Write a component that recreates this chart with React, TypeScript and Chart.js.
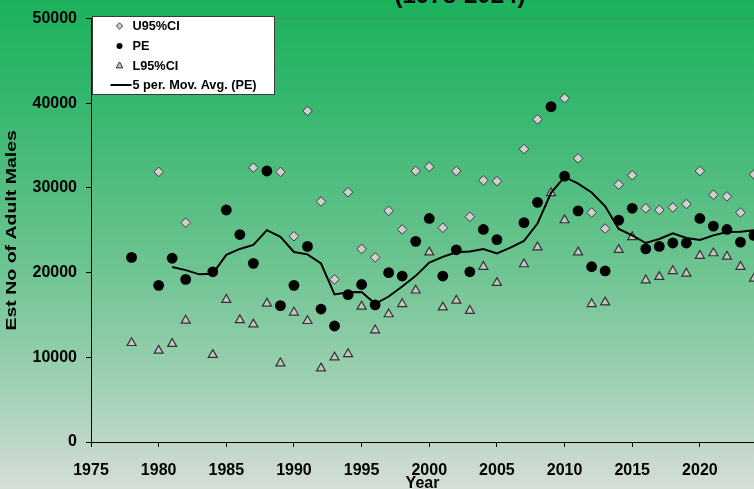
import React, { useEffect, useRef } from 'react';
import { Chart, registerables } from 'chart.js';

Chart.register(...registerables);

// ---- Data ----
const years = [
  1978, 1980, 1981, 1982, 1984, 1985, 1986, 1987, 1988, 1989, 1990, 1991, 1992, 1993, 1994,
  1995, 1996, 1997, 1998, 1999, 2000, 2001, 2002, 2003, 2004, 2005, 2007, 2008, 2009, 2010,
  2011, 2012, 2013, 2014, 2015, 2016, 2017, 2018, 2019, 2020, 2021, 2022, 2023, 2024,
];

const upperCI: (number | null)[] = [
  null, 31900, null, 25900, null, null, null, 32400, null, 31900, 24300, 39100, 28400, 19200, 29500,
  22800, 21800, 27300, 25100, 32000, 32500, 25300, 32000, 26600, 30900, 30800, 34600, 38100, null, 40600,
  33500, 27100, 25200, 30400, 31500, 27600, 27400, 27700, 28100, 32000, 29200, 29000, 27100, 31600,
];

const pointEst: (number | null)[] = [
  21800, 18500, 21700, 19200, 20100, 27400, 24500, 21100, 32000, 16100, 18500, 23100, 15700, 13700, 17400,
  18600, 16200, 20000, 19600, 23700, 26400, 19600, 22700, 20100, 25100, 23900, 25900, 28300, 39600, 31400,
  27300, 20700, 20200, 26200, 27600, 22800, 23100, 23500, 23500, 26400, 25500, 25100, 23600, 24400,
];

const lowerCI: (number | null)[] = [
  11700, 10800, 11600, 14350, 10300, 16800, 14400, 13900, 16350, 9300, 15300, 14300, 8700, 10000, 10400,
  16000, 13200, 15100, 16300, 17900, 22400, 15900, 16700, 15500, 20700, 18800, 21000, 23000, 29400, 26200,
  22400, 16300, 16500, 22700, 24200, 19100, 19500, 20200, 19900, 22000, 22300, 21900, 20700, 19300,
];

const maYears = [
  1981, 1982, 1983, 1984, 1985, 1986, 1987, 1988, 1989, 1990, 1991, 1992, 1993, 1994, 1995,
  1996, 1997, 1998, 1999, 2000, 2001, 2002, 2003, 2004, 2005, 2006, 2007, 2008, 2009, 2010,
  2011, 2012, 2013, 2014, 2015, 2016, 2017, 2018, 2019, 2020, 2021, 2022, 2023, 2024,
];

const maValues = [
  20670, 20300, 19800, 19880, 22100, 22800, 23280, 25020, 24220, 22440, 22160, 21080, 17420, 17680, 17700,
  16320, 17180, 18360, 19620, 21180, 21860, 22400, 22500, 22780, 22280, 22950, 23750, 25800, 29430, 31300,
  30500, 29460, 27840, 25160, 24400, 23500, 23980, 24640, 24100, 23860, 24400, 24800, 24820, 25000,
];

const seriesLabels = ['U95%CI', 'PE', 'L95%CI', '5 per. Mov. Avg. (PE)'];
const titleText = '(1978-2024)';
const xTitle = 'Year';
const yTitle = 'Est No of Adult Males';

const FONT = "'Liberation Sans', Arial, sans-serif";

const toPoints = (xs: number[], ys: (number | null)[]) =>
  xs.map((x, i) => ({ x, y: ys[i] })).filter((p) => p.y !== null) as { x: number; y: number }[];

const bgPlugin = {
  id: 'bgGradient',
  beforeDraw(chart: any) {
    const { ctx, width, height } = chart;
    const g = ctx.createLinearGradient(0, 0, 0, height);
    g.addColorStop(0, 'rgb(28,178,92)');
    g.addColorStop(0.2, 'rgb(52,182,110)');
    g.addColorStop(0.55, 'rgb(110,196,145)');
    g.addColorStop(0.8, 'rgb(162,209,182)');
    g.addColorStop(1, 'rgb(214,221,215)');
    ctx.save();
    ctx.fillStyle = g;
    ctx.fillRect(0, 0, width, height);
    ctx.restore();
  },
};

const decorPlugin = {
  id: 'decor',
  afterDraw(chart: any) {
    const { ctx, chartArea } = chart;
    ctx.save();
    // Top title (cut off at top edge)
    ctx.fillStyle = '#000';
    ctx.font = `bold 24px ${FONT}`;
    ctx.textAlign = 'center';
    ctx.textBaseline = 'alphabetic';
    ctx.fillText(titleText, 460, 3);

    // X title
    ctx.font = `bold 16px ${FONT}`;
    ctx.textAlign = 'center';
    ctx.textBaseline = 'alphabetic';
    ctx.fillText(xTitle, (chartArea.left + chartArea.right) / 2, 488);

    // Y title (stretched along its length)
    ctx.save();
    ctx.translate(16, (chartArea.top + chartArea.bottom) / 2);
    ctx.rotate(-Math.PI / 2);
    ctx.scale(1.3, 1);
    ctx.font = `bold 15px ${FONT}`;
    ctx.textAlign = 'center';
    ctx.textBaseline = 'alphabetic';
    ctx.fillText(yTitle, 0, 0);
    ctx.restore();

    // Legend box
    const lx = 92.5, ly = 16.5, lw = 182, lh = 78;
    ctx.fillStyle = '#ffffff';
    ctx.fillRect(lx, ly, lw, lh);
    ctx.strokeStyle = '#3a3a3a';
    ctx.lineWidth = 1;
    ctx.strokeRect(lx, ly, lw, lh);

    const mx = 119.5;
    const rows = [26, 46, 65.5, 85];
    // diamond
    ctx.beginPath();
    ctx.moveTo(mx, rows[0] - 3.2);
    ctx.lineTo(mx + 3.2, rows[0]);
    ctx.lineTo(mx, rows[0] + 3.2);
    ctx.lineTo(mx - 3.2, rows[0]);
    ctx.closePath();
    ctx.fillStyle = '#cfcfcf';
    ctx.fill();
    ctx.strokeStyle = '#3c3c3c';
    ctx.stroke();
    // circle
    ctx.beginPath();
    ctx.arc(mx, rows[1], 3, 0, Math.PI * 2);
    ctx.fillStyle = '#000';
    ctx.fill();
    // triangle
    ctx.beginPath();
    ctx.moveTo(mx, rows[2] - 3.6);
    ctx.lineTo(mx + 3.3, rows[2] + 2.4);
    ctx.lineTo(mx - 3.3, rows[2] + 2.4);
    ctx.closePath();
    ctx.fillStyle = '#c4c4c4';
    ctx.fill();
    ctx.strokeStyle = '#333';
    ctx.stroke();
    // line
    ctx.beginPath();
    ctx.moveTo(110.5, rows[3]);
    ctx.lineTo(131.5, rows[3]);
    ctx.strokeStyle = '#000';
    ctx.lineWidth = 2;
    ctx.stroke();

    ctx.fillStyle = '#000';
    ctx.font = `bold 12.7px ${FONT}`;
    ctx.textAlign = 'left';
    ctx.textBaseline = 'middle';
    seriesLabels.forEach((t, i) => ctx.fillText(t, 132.5, rows[i] + 0.5));
    ctx.restore();
  },
};

export default function App() {
  const ref = useRef<HTMLCanvasElement>(null);

  useEffect(() => {
    const canvas = ref.current;
    if (!canvas) return;
    const chart = new Chart(canvas, {
      type: 'scatter',
      data: {
        datasets: [
          {
            label: seriesLabels[0],
            data: toPoints(years, upperCI),
            pointStyle: 'rectRot',
            pointRadius: 4.8,
            backgroundColor: '#cfcfcf',
            borderColor: '#3c3c3c',
            borderWidth: 1,
            order: 1,
          },
          {
            label: seriesLabels[1],
            data: toPoints(years, pointEst),
            pointStyle: 'circle',
            pointRadius: 5.4,
            backgroundColor: '#000',
            borderColor: '#000',
            borderWidth: 0,
            order: 1,
          },
          {
            label: seriesLabels[2],
            data: toPoints(years, lowerCI),
            pointStyle: 'triangle',
            pointRadius: 5.2,
            backgroundColor: '#c4c4c4',
            borderColor: '#333',
            borderWidth: 1.2,
            order: 1,
          },
          {
            label: seriesLabels[3],
            data: toPoints(maYears, maValues),
            showLine: true,
            pointRadius: 0,
            borderColor: '#000',
            backgroundColor: '#000',
            borderWidth: 2,
            tension: 0,
            order: 0,
          } as any,
        ],
      },
      options: {
        responsive: false,
        animation: false,
        devicePixelRatio: 1,
        layout: { autoPadding: false, padding: { top: 16, right: 0, left: 0, bottom: 0 } },
        plugins: {
          legend: { display: false },
          tooltip: { enabled: false },
          title: { display: false },
        },
        scales: {
          x: {
            type: 'linear',
            min: 1975,
            max: 2024,
            afterFit: (s: any) => {
              s.height = 47;
              s.paddingRight = 0;
              s.paddingLeft = 0;
            },
            ticks: {
              stepSize: 5,
              includeBounds: false,
              autoSkip: false,
              maxRotation: 0,
              callback: (v: any) => String(v),
              color: '#000',
              font: { family: FONT, size: 16, weight: 'bold' },
              padding: 14,
            },
            grid: {
              color: 'rgba(0,0,0,0)',
              tickColor: '#000',
              tickLength: 5,
            },
            border: { color: '#000', width: 1 },
          },
          y: {
            min: 0,
            max: 50000,
            afterFit: (s: any) => {
              s.width = 91;
            },
            ticks: {
              stepSize: 10000,
              callback: (v: any) => String(v),
              color: '#000',
              font: { family: FONT, size: 16, weight: 'bold' },
              padding: 9,
            },
            grid: {
              color: (c: any) =>
                c.tick && c.tick.value === 50000 ? 'rgba(95,125,100,0.75)' : 'rgba(0,0,0,0)',
              tickColor: '#000',
              tickLength: 5,
            },
            border: { color: '#000', width: 1 },
          },
        },
      } as any,
      plugins: [bgPlugin, decorPlugin],
    });
    return () => chart.destroy();
  }, []);

  return (
    <div style={{ position: 'absolute', left: 0, top: 0, width: 754, height: 489, overflow: 'hidden' }}>
      <canvas ref={ref} width={754} height={489} style={{ display: 'block' }} />
    </div>
  );
}
